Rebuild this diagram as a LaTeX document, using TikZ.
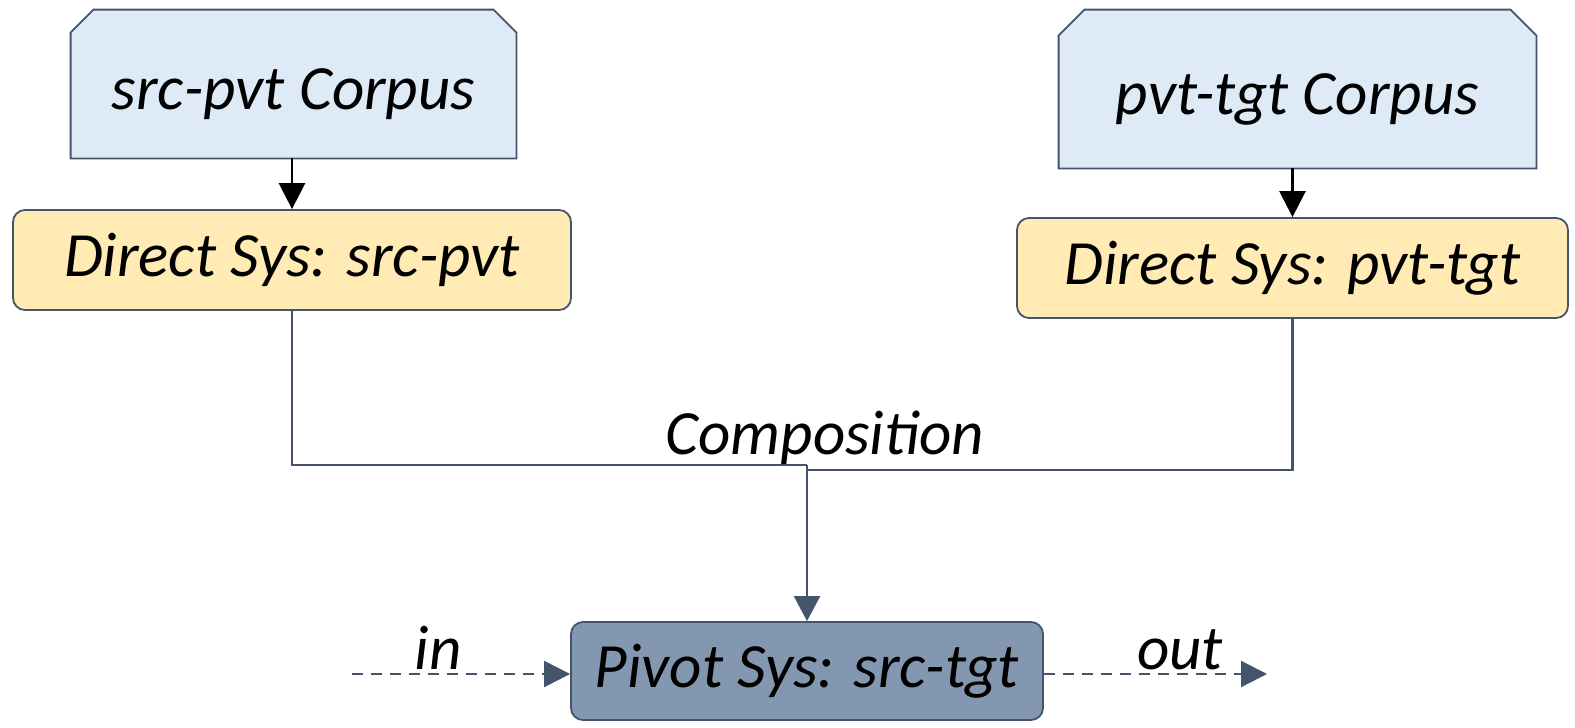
\documentclass[tikz,border=0pt]{standalone}
\usepackage{fontspec}
\setmainfont{Carlito}
\usetikzlibrary{arrows.meta}
\definecolor{corpusfill}{HTML}{DEEBF7}
\definecolor{edgegray}{HTML}{44546A}
\definecolor{sysfill}{HTML}{FFEBB3}
\definecolor{pivotfill}{HTML}{8497B0}
\tikzset{
  lbl/.style={font=\itshape\fontsize{31.5}{36}\selectfont, text=black, inner sep=0pt},
  corpus/.style={lbl, rectangle, minimum width=#1},
  sysbox/.style={lbl, rectangle, rounded corners=6pt, draw=edgegray, line width=0.9pt, fill=sysfill, minimum height=50pt},
  pivotbox/.style={lbl, rectangle, rounded corners=6pt, draw=edgegray, line width=0.9pt, fill=pivotfill, minimum width=236pt, minimum height=49pt},
  feed/.style={draw=black, line width=1.3pt, -{Triangle[length=13pt,width=13pt]}},
  conn/.style={draw=edgegray, line width=1.1pt},
  flow/.style={draw=edgegray, line width=1.1pt, dash pattern=on 5.5pt off 4pt, -{Triangle[length=13pt,width=13pt]}},
  cut/.style={fill=corpusfill, draw=edgegray, line width=0.9pt},
}
\begin{document}
\begin{tikzpicture}[x=0.5pt,y=-0.5pt]
\useasboundingbox (0,0) rectangle (1575,728);

% corpora: rectangles with the two upper corners cut off
\node[corpus=222.5pt, minimum height=74pt] (c1) at (293.5,84) {};
\node[corpus=238.5pt, minimum height=79pt] (c2) at (1297.5,89) {};
\path[cut] (c1.south west) -- ([yshift=-11.5pt]c1.north west) -- ([xshift=11.5pt]c1.north west)
  -- ([xshift=-11.5pt]c1.north east) -- ([yshift=-11.5pt]c1.north east) -- (c1.south east) -- cycle;
\path[cut] (c2.south west) -- ([yshift=-13pt]c2.north west) -- ([xshift=13pt]c2.north west)
  -- ([xshift=-13pt]c2.north east) -- ([yshift=-13pt]c2.north east) -- (c2.south east) -- cycle;
\node[lbl] (c1t) at ([yshift=-5pt]c1.center) {src-pvt Corpus};
\node[lbl] (c2t) at ([yshift=-5pt]c2.center) {pvt-tgt Corpus};

% direct systems
\node[sysbox, minimum width=279pt] (d1) at (292,260) {Direct Sys: src-pvt};
\node[sysbox, minimum width=275.5pt] (d2) at (1292.5,268) {Direct Sys: pvt-tgt};

% pivot system
\node[pivotbox] (p) at (807,671) {Pivot Sys: src-tgt};

% corpus to system
\draw[feed] (c1.south -| d1.north) -- (d1.north);
\draw[feed] (c2.south -| d2.north) -- (d2.north);

% composition
\coordinate (jl) at (807,465);
\coordinate (jr) at (807,470);
\draw[conn] (d1.south) |- (jl);
\draw[conn] (d2.south) |- (jr);
\draw[conn, -{Triangle[length=12.5pt,width=13pt]}] (jl) -- (p.north);
\node[lbl] (comp) at (825,438) {Composition};

% input and output
\coordinate (src) at (352,674);
\coordinate (dst) at (1267,674);
\draw[flow] (src) -- (p.west |- src);
\draw[flow] (p.east |- dst) -- (dst);
\node[lbl] (inl) at (438,648) {in};
\node[lbl] (outl) at (1180,650) {out};
\end{tikzpicture}
\end{document}
